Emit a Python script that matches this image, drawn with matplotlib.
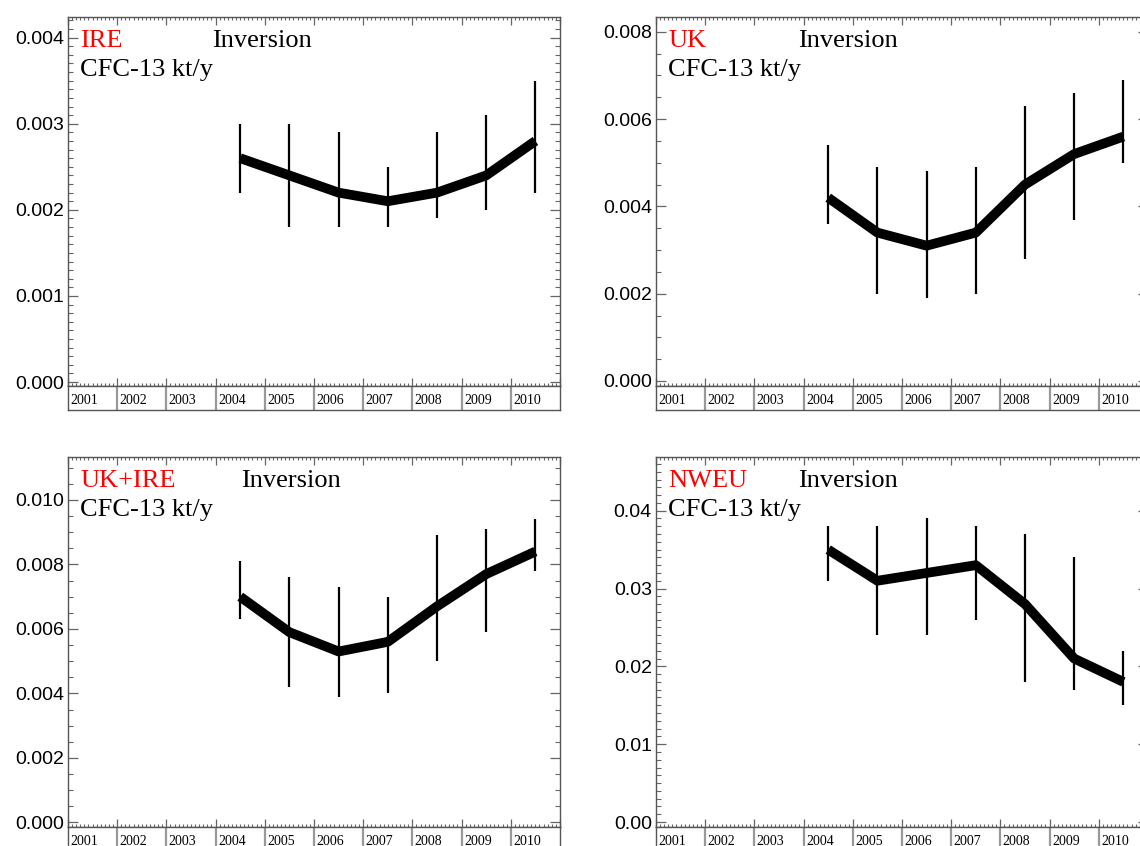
import numpy as np
import matplotlib
matplotlib.use('Agg')
import matplotlib.pyplot as plt
from matplotlib.ticker import FixedLocator, MultipleLocator, FormatStrFormatter
from matplotlib.transforms import offset_copy

# ---------------- data ----------------
years = [2004, 2005, 2006, 2007, 2008, 2009, 2010]
year_labels = ['2001', '2002', '2003', '2004', '2005',
               '2006', '2007', '2008', '2009', '2010']

ire_val = [0.0026, 0.0024, 0.0022, 0.0021, 0.0022, 0.0024, 0.0028]
ire_hi = [0.0030, 0.0030, 0.0029, 0.0025, 0.0029, 0.0031, 0.0035]
ire_lo = [0.0022, 0.0018, 0.0018, 0.0018, 0.0019, 0.0020, 0.0022]

uk_val = [0.0042, 0.0034, 0.0031, 0.0034, 0.0045, 0.0052, 0.0056]
uk_hi = [0.0054, 0.0049, 0.0048, 0.0049, 0.0063, 0.0066, 0.0069]
uk_lo = [0.0036, 0.0020, 0.0019, 0.0020, 0.0028, 0.0037, 0.0050]

ukire_val = [0.0070, 0.0059, 0.0053, 0.0056, 0.0067, 0.0077, 0.0084]
ukire_hi = [0.0081, 0.0076, 0.0073, 0.0070, 0.0089, 0.0091, 0.0094]
ukire_lo = [0.0063, 0.0042, 0.0039, 0.0040, 0.0050, 0.0059, 0.0078]

nweu_val = [0.035, 0.031, 0.032, 0.033, 0.028, 0.021, 0.018]
nweu_hi = [0.038, 0.038, 0.039, 0.038, 0.037, 0.034, 0.022]
nweu_lo = [0.031, 0.024, 0.024, 0.026, 0.018, 0.017, 0.015]

regions = ['IRE', 'UK', 'UK+IRE', 'NWEU']
subtitle = 'Inversion'
species = 'CFC-13 kt/y'

# ---------------- layout ----------------
W, H = 1140, 846
fig = plt.figure(figsize=(W / 100, H / 100), dpi=100)


def px(l, t, w, h):
    return [l / W, 1 - (t + h) / H, w / W, h / H]


panels = [
    dict(name=regions[0], v=ire_val, hi=ire_hi, lo=ire_lo, pos=(68, 17, 369),
         ylim=(-0.000046, 0.00424), major=0.001, minor=0.0001, fmt='%.3f', inv_x=144),
    dict(name=regions[1], v=uk_val, hi=uk_hi, lo=uk_lo, pos=(656, 17, 369),
         ylim=(-0.000115, 0.00834), major=0.002, minor=0.0005, fmt='%.3f', inv_x=142),
    dict(name=regions[2], v=ukire_val, hi=ukire_hi, lo=ukire_lo, pos=(68, 457, 370),
         ylim=(-0.00014, 0.01133), major=0.002, minor=0.0005, fmt='%.3f', inv_x=173),
    dict(name=regions[3], v=nweu_val, hi=nweu_hi, lo=nweu_lo, pos=(656, 457, 370),
         ylim=(-0.00064, 0.0469), major=0.01, minor=0.001, fmt='%.2f', inv_x=142),
]

AXW = 492
BOXH = 24
spine_col = '#555555'
tick_col = '#666666'
x0, x1 = 2000.5, 2010.5
bounds = np.arange(x0, x1 + 0.01, 1.0)
months = np.arange(x0, x1 + 0.001, 1.0 / 12)

serif = ['Liberation Serif', 'DejaVu Serif']
sans = ['Liberation Sans', 'DejaVu Sans']

for p in panels:
    l, t, h = p['pos']
    ax = fig.add_axes(px(l, t, AXW, h))
    ax.vlines(years, p['lo'], p['hi'], color='black', lw=1.6, zorder=3)
    ax.plot(years, p['v'], color='black', lw=7, solid_joinstyle='round',
            solid_capstyle='butt', zorder=2)
    ax.set_xlim(x0, x1)
    ax.set_ylim(*p['ylim'])

    ax.xaxis.set_major_locator(FixedLocator(bounds))
    ax.xaxis.set_minor_locator(FixedLocator(months))
    ax.xaxis.set_major_formatter(plt.NullFormatter())
    ax.yaxis.set_major_locator(MultipleLocator(p['major']))
    ax.yaxis.set_minor_locator(MultipleLocator(p['minor']))
    ax.yaxis.set_major_formatter(FormatStrFormatter(p['fmt']))

    ax.tick_params(axis='x', which='major', direction='in', length=5.8, width=0.9,
                   color=tick_col, top=True, bottom=True, labelbottom=False)
    ax.tick_params(axis='x', which='minor', direction='in', length=2.3, width=0.8,
                   color=tick_col, top=True, bottom=True)
    ax.tick_params(axis='y', which='major', direction='in', length=7.2, width=0.9,
                   color=tick_col, left=True, right=True, pad=3, labelsize=14)
    ax.tick_params(axis='y', which='minor', direction='in', length=3.6, width=0.8,
                   color=tick_col, left=True, right=True)
    for lab in ax.get_yticklabels():
        lab.set_fontfamily(sans)
    for s in ax.spines.values():
        s.set_color(spine_col)
        s.set_linewidth(1.0)

    tr1 = offset_copy(ax.transAxes, fig=fig, x=12, y=-30, units='dots')
    ax.text(0, 1, p['name'], transform=tr1, color='#ff0000', fontsize=19,
            family=serif, ha='left', va='baseline')
    tr2 = offset_copy(ax.transAxes, fig=fig, x=p['inv_x'], y=-30, units='dots')
    ax.text(0, 1, subtitle, transform=tr2, color='black', fontsize=19,
            family=serif, ha='left', va='baseline')
    tr3 = offset_copy(ax.transAxes, fig=fig, x=12, y=-59, units='dots')
    ax.text(0, 1, species, transform=tr3, color='black', fontsize=19,
            family=serif, ha='left', va='baseline')

    # year box row
    bx = fig.add_axes(px(l, t + h, AXW, BOXH))
    bx.set_xlim(x0, x1)
    bx.set_ylim(0, 1)
    bx.set_xticks([])
    bx.set_yticks([])
    for s in bx.spines.values():
        s.set_color(spine_col)
        s.set_linewidth(1.0)
    bx.vlines(bounds[1:-1], 0, 1, color='#999999', lw=1.6)
    for i, lab in enumerate(year_labels):
        bx.text(bounds[i] + 0.05, 0.4, lab, fontsize=10, family=serif,
                ha='left', va='center', color='black')

fig.savefig('out.png', dpi=100)
